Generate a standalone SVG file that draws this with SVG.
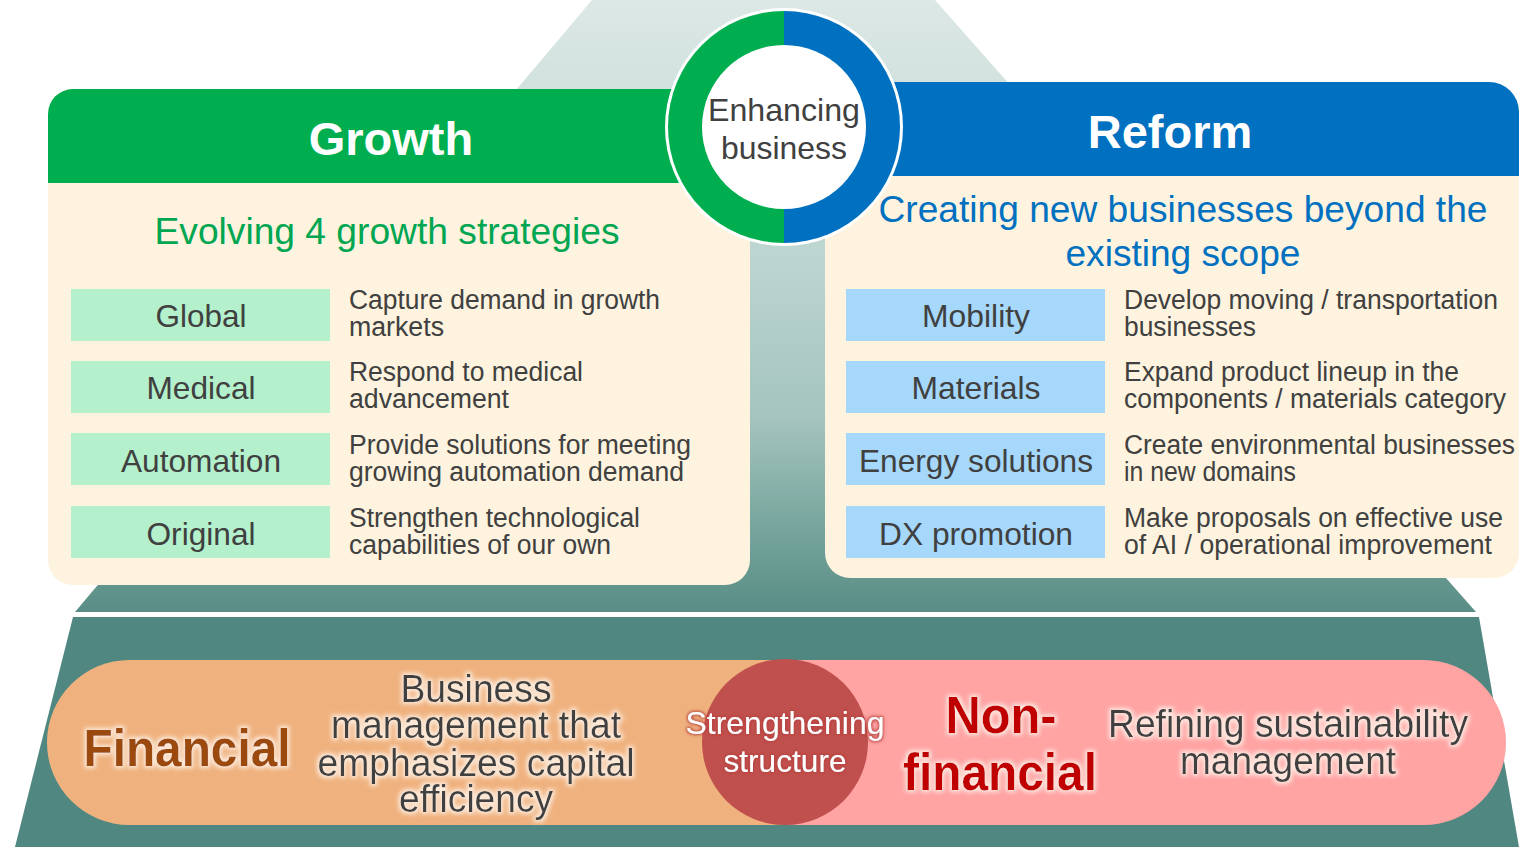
<svg xmlns="http://www.w3.org/2000/svg" width="1519" height="847" viewBox="0 0 1519 847">
  <defs>
    <linearGradient id="mountain" x1="0" y1="0" x2="0" y2="612" gradientUnits="userSpaceOnUse">
      <stop offset="0" stop-color="#dce8e5"/>
      <stop offset="0.4" stop-color="#bed6d2"/>
      <stop offset="0.68" stop-color="#a5c4bf"/>
      <stop offset="0.86" stop-color="#77a69d"/>
      <stop offset="1" stop-color="#598d85"/>
    </linearGradient>
    <filter id="glowLight" x="-10%" y="-30%" width="120%" height="160%">
      <feMorphology in="SourceAlpha" operator="dilate" radius="1.5" result="d"/>
      <feGaussianBlur in="d" stdDeviation="2" result="b"/>
      <feFlood flood-color="#fff4ea" flood-opacity="0.85"/>
      <feComposite in2="b" operator="in" result="g"/>
      <feMerge><feMergeNode in="g"/><feMergeNode in="SourceGraphic"/></feMerge>
    </filter>
    <filter id="glowRed" x="-10%" y="-30%" width="120%" height="160%">
      <feMorphology in="SourceAlpha" operator="dilate" radius="1.2" result="d"/>
      <feGaussianBlur in="d" stdDeviation="1.5" result="b"/>
      <feFlood flood-color="#b8403d" flood-opacity="0.9"/>
      <feComposite in2="b" operator="in" result="g"/>
      <feMerge><feMergeNode in="g"/><feMergeNode in="SourceGraphic"/></feMerge>
    </filter>
  </defs>
  <style>
    text { font-family: "Liberation Sans", Arial, sans-serif; }
    .head { font-size: 47px; font-weight: bold; fill: #ffffff; text-anchor: middle; }
    .sub { font-size: 36px; text-anchor: middle; }
    .label { font-size: 32px; fill: #404040; text-anchor: middle; }
    .desc { font-size: 27px; fill: #404040; }
    .cream { fill: #fdf3de; }
    .mint { fill: #b3f0cb; }
    .sky { fill: #a6d8fc; }
    .band { font-size: 38px; fill: #404040; text-anchor: middle; }
  </style>

  <!-- background mountain -->
  <g id="background">
    <path d="M592,0 H935 L1476,612 H75 Z" fill="url(#mountain)"/>
    <path d="M73,617 H1479 L1519,847 H15 Z" fill="#518781"/>
  </g>

  <!-- Growth panel -->
  <g id="growth">
    <rect x="48" y="89" width="702" height="496" rx="25" class="cream"/>
    <path d="M48,183 V114 A25,25 0 0 1 73,89 H725 A25,25 0 0 1 750,114 V183 Z" fill="#00ae4f"/>
    <text x="391" y="155" class="head">Growth</text>
    <text x="387" y="244" class="sub" fill="#00a651" textLength="465" lengthAdjust="spacingAndGlyphs">Evolving 4 growth strategies</text>

    <g id="global">
      <rect x="71" y="289" width="259" height="52" class="mint"/>
      <text x="201" y="327" class="label" textLength="91" lengthAdjust="spacingAndGlyphs">Global</text>
      <text x="349" y="309" class="desc" textLength="311" lengthAdjust="spacingAndGlyphs">Capture demand in growth</text>
      <text x="349" y="336" class="desc" textLength="95" lengthAdjust="spacingAndGlyphs">markets</text>
    </g>
    <g id="medical">
      <rect x="71" y="361" width="259" height="52" class="mint"/>
      <text x="201" y="399" class="label" textLength="109" lengthAdjust="spacingAndGlyphs">Medical</text>
      <text x="349" y="381" class="desc" textLength="234" lengthAdjust="spacingAndGlyphs">Respond to medical</text>
      <text x="349" y="408" class="desc" textLength="160" lengthAdjust="spacingAndGlyphs">advancement</text>
    </g>
    <g id="automation">
      <rect x="71" y="433" width="259" height="52" class="mint"/>
      <text x="201" y="472" class="label" textLength="160" lengthAdjust="spacingAndGlyphs">Automation</text>
      <text x="349" y="454" class="desc" textLength="342" lengthAdjust="spacingAndGlyphs">Provide solutions for meeting</text>
      <text x="349" y="481" class="desc" textLength="335" lengthAdjust="spacingAndGlyphs">growing automation demand</text>
    </g>
    <g id="original">
      <rect x="71" y="506" width="259" height="52" class="mint"/>
      <text x="201" y="545" class="label" textLength="109" lengthAdjust="spacingAndGlyphs">Original</text>
      <text x="349" y="527" class="desc" textLength="291" lengthAdjust="spacingAndGlyphs">Strengthen technological</text>
      <text x="349" y="554" class="desc" textLength="262" lengthAdjust="spacingAndGlyphs">capabilities of our own</text>
    </g>
  </g>

  <!-- Reform panel -->
  <g id="reform">
    <path d="M850,82 H1489 A30,30 0 0 1 1519,112 V553 A25,25 0 0 1 1494,578 H850 A25,25 0 0 1 825,553 V107 A25,25 0 0 1 850,82 Z" class="cream"/>
    <path d="M825,176 V107 A25,25 0 0 1 850,82 H1489 A30,30 0 0 1 1519,112 V176 Z" fill="#0070c0"/>
    <text x="1170" y="148" class="head">Reform</text>
    <text x="1183" y="222" class="sub" fill="#0070c0" textLength="609" lengthAdjust="spacingAndGlyphs">Creating new businesses beyond the</text>
    <text x="1183" y="266" class="sub" fill="#0070c0" textLength="235" lengthAdjust="spacingAndGlyphs">existing scope</text>

    <g id="mobility">
      <rect x="846" y="289" width="259" height="52" class="sky"/>
      <text x="976" y="327" class="label" textLength="108" lengthAdjust="spacingAndGlyphs">Mobility</text>
      <text x="1124" y="309" class="desc" textLength="374" lengthAdjust="spacingAndGlyphs">Develop moving / transportation</text>
      <text x="1124" y="336" class="desc" textLength="132" lengthAdjust="spacingAndGlyphs">businesses</text>
    </g>
    <g id="materials">
      <rect x="846" y="361" width="259" height="52" class="sky"/>
      <text x="976" y="399" class="label" textLength="129" lengthAdjust="spacingAndGlyphs">Materials</text>
      <text x="1124" y="381" class="desc" textLength="335" lengthAdjust="spacingAndGlyphs">Expand product lineup in the</text>
      <text x="1124" y="408" class="desc" textLength="382" lengthAdjust="spacingAndGlyphs">components / materials category</text>
    </g>
    <g id="energy">
      <rect x="846" y="433" width="259" height="52" class="sky"/>
      <text x="976" y="472" class="label" textLength="234" lengthAdjust="spacingAndGlyphs">Energy solutions</text>
      <text x="1124" y="454" class="desc" textLength="391" lengthAdjust="spacingAndGlyphs">Create environmental businesses</text>
      <text x="1124" y="481" class="desc" textLength="172" lengthAdjust="spacingAndGlyphs">in new domains</text>
    </g>
    <g id="dx">
      <rect x="846" y="506" width="259" height="52" class="sky"/>
      <text x="976" y="545" class="label" textLength="194" lengthAdjust="spacingAndGlyphs">DX promotion</text>
      <text x="1124" y="527" class="desc" textLength="379" lengthAdjust="spacingAndGlyphs">Make proposals on effective use</text>
      <text x="1124" y="554" class="desc" textLength="368" lengthAdjust="spacingAndGlyphs">of AI / operational improvement</text>
    </g>
  </g>

  <!-- central ring -->
  <g id="enhancing">
    <circle cx="784" cy="127" r="119" fill="#ffffff"/>
    <path d="M784,11 A116,116 0 0 0 784,243 Z" fill="#00ae4f"/>
    <path d="M784,11 A116,116 0 0 1 784,243 Z" fill="#0070c0"/>
    <circle cx="784" cy="127" r="82" fill="#ffffff"/>
    <text x="784" y="121" class="label" textLength="152" lengthAdjust="spacingAndGlyphs">Enhancing</text>
    <text x="784" y="159" class="label" textLength="126" lengthAdjust="spacingAndGlyphs">business</text>
  </g>

  <!-- foundation band -->
  <g id="financial">
    <path d="M785,660 H129.5 A82.5,82.5 0 0 0 129.5,825 H785 Z" fill="#efb27f"/>
    <text x="187" y="766" font-size="52" font-weight="bold" fill="#9c4a0c" text-anchor="middle" textLength="207" lengthAdjust="spacingAndGlyphs" filter="url(#glowLight)">Financial</text>
    <g filter="url(#glowLight)">
      <text x="476" y="702" class="band" textLength="151" lengthAdjust="spacingAndGlyphs">Business</text>
      <text x="476" y="738" class="band" textLength="290" lengthAdjust="spacingAndGlyphs">management that</text>
      <text x="476" y="776" class="band" textLength="317" lengthAdjust="spacingAndGlyphs">emphasizes capital</text>
      <text x="476" y="812" class="band" textLength="154" lengthAdjust="spacingAndGlyphs">efficiency</text>
    </g>
  </g>
  <g id="nonfinancial">
    <path d="M785,660 H1423.5 A82.5,82.5 0 0 1 1423.5,825 H785 Z" fill="#ffa3a3"/>
    <g filter="url(#glowLight)" font-size="52" font-weight="bold" fill="#c00000" text-anchor="middle">
      <text x="1001" y="733" textLength="111" lengthAdjust="spacingAndGlyphs">Non-</text>
      <text x="1000" y="790" textLength="194" lengthAdjust="spacingAndGlyphs">financial</text>
    </g>
    <g filter="url(#glowLight)">
      <text x="1288" y="737" class="band" textLength="360" lengthAdjust="spacingAndGlyphs">Refining sustainability</text>
      <text x="1288" y="774" class="band" textLength="216" lengthAdjust="spacingAndGlyphs">management</text>
    </g>
  </g>
  <g id="strengthening">
    <circle cx="785" cy="742" r="83" fill="#c0504d"/>
    <g filter="url(#glowRed)" font-size="32" fill="#ffffff" text-anchor="middle">
      <text x="785" y="734" textLength="199" lengthAdjust="spacingAndGlyphs">Strengthening</text>
      <text x="785" y="772" textLength="123" lengthAdjust="spacingAndGlyphs">structure</text>
    </g>
  </g>
</svg>
